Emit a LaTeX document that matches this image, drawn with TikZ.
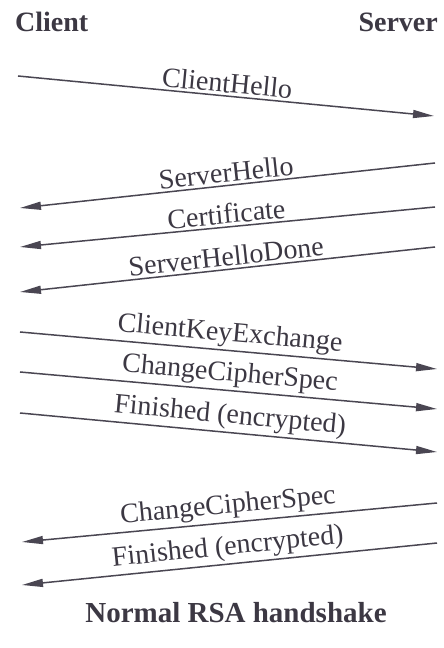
\documentclass[tikz,border=0pt]{standalone}
\usepackage{fontspec}
\setmainfont{Liberation Serif}
\usetikzlibrary{
arrows.meta
}
\definecolor{TLSInk}{HTML}{3C3843}
\definecolor{TLSLine}{HTML}{4A4652}
\tikzset{
tlshead/.style={font=\fontsize{28}{32}\selectfont\bfseries, text=TLSInk, inner sep=0pt},
tlsmsg/.style={-{Triangle[length=21pt, width=8pt]}, line width=1.5pt, draw=TLSLine},
tlslabel/.style={midway, above, sloped, inner sep=2.5pt,
  font=\fontsize{28}{32}\selectfont, text=TLSInk}
}

\begin{document}
\begin{tikzpicture}[x=1pt, y=1pt]
\useasboundingbox (0,0) rectangle (444,648);
\node[tlshead, anchor=base west] (client) at (15,616) {Client};
\node[tlshead, anchor=base east] (server) at (438,616) {Server};

% client -> server
\coordinate (helloC) at (18,572);   \coordinate (helloS) at (434,532);
% server -> client
\coordinate (shelloS) at (435,485); \coordinate (shelloC) at (20,440);
\coordinate (certS) at (435,441);   \coordinate (certC) at (20,401);
\coordinate (doneS) at (435,401);   \coordinate (doneC) at (20,356);
% client -> server
\coordinate (keyC) at (20,316);     \coordinate (keyS) at (437,279);
\coordinate (ccsC) at (20,276);     \coordinate (ccsS) at (437,239);
\coordinate (finC) at (20,235);     \coordinate (finS) at (437,196);
% server -> client
\coordinate (sccsS) at (437,145);   \coordinate (sccsC) at (22,106);
\coordinate (sfinS) at (437,105);   \coordinate (sfinC) at (22,63);

\draw[tlsmsg] (helloC) -- node[tlslabel] {ClientHello} (helloS);
\draw[tlsmsg] (shelloS) -- node[tlslabel] {ServerHello} (shelloC);
\draw[tlsmsg] (certS) -- node[tlslabel] {Certificate} (certC);
\draw[tlsmsg] (doneS) -- node[tlslabel] {ServerHelloDone} (doneC);
\draw[tlsmsg] (keyC) -- node[tlslabel] {ClientKeyExchange} (keyS);
\draw[tlsmsg] (ccsC) -- node[tlslabel] {ChangeCipherSpec} (ccsS);
\draw[tlsmsg] (finC) -- node[tlslabel] {Finished (encrypted)} (finS);
\draw[tlsmsg] (sccsS) -- node[tlslabel] {ChangeCipherSpec} (sccsC);
\draw[tlsmsg] (sfinS) -- node[tlslabel] {Finished (encrypted)} (sfinC);

\node[tlshead, anchor=base, font=\fontsize{29}{33}\selectfont\bfseries] (caption) at (236,25) {Normal RSA handshake};
\end{tikzpicture}
\end{document}
